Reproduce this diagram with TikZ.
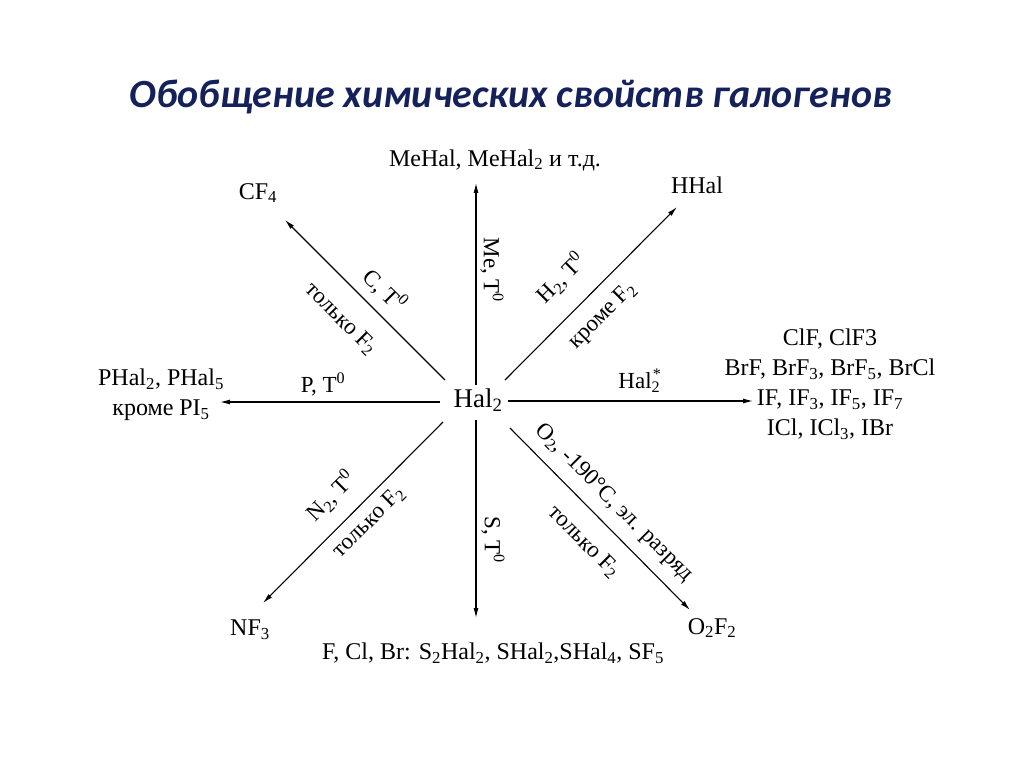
\documentclass[tikz,border=0pt]{standalone}
\usepackage{fontspec}
\setmainfont{Liberation Serif}
\newfontfamily\titlefont{Carlito}
\usetikzlibrary{arrows.meta}
\definecolor{titleblue}{HTML}{14215A}
\newcommand{\sbs}[1]{\textsubscript{#1}}
\newcommand{\sps}[1]{\textsuperscript{#1}}
\begin{document}
\begin{tikzpicture}[x=1pt,y=-1pt,
  lbl/.style={font=\fontsize{24}{30}\selectfont, inner sep=1pt},
  rlbl/.style={font=\fontsize{23}{26}\selectfont, inner sep=0pt},
  arr/.style={line width=1.1pt, -{Latex[length=10pt,width=5pt]}}]
\useasboundingbox (0,0) rectangle (1024,767);
\fill[white] (0,0) rectangle (1024,767);
\node[font=\titlefont\bfseries\itshape\fontsize{40}{46}\selectfont, text=titleblue] (title) at (511,97) {Обобщение химических свойств галогенов};
\node[font=\fontsize{27}{30}\selectfont, inner sep=1pt] (hal) at (478,400) {Hal\sbs{2}};
% end products
\node[lbl] (cf4) at (258,193) {CF\sbs{4}};
\node[lbl] (mehal) at (495,160) {MeHal, MeHal\sbs{2} и т.д.};
\node[lbl] (hhal) at (697,185) {HHal};
\node[lbl, align=center] (phal) at (161,395) {PHal\sbs{2}, PHal\sbs{5}\\кроме PI\sbs{5}};
\node[lbl, align=center] (inter) at (830,384) {ClF, ClF3\\BrF, BrF\sbs{3}, BrF\sbs{5}, BrCl\\IF, IF\sbs{3}, IF\sbs{5}, IF\sbs{7}\\ICl, ICl\sbs{3}, IBr};
\node[lbl] (nf3) at (250,630) {NF\sbs{3}};
\node[lbl] (o2f2) at (712,628) {O\sbs{2}F\sbs{2}};
\node[lbl] (shal) at (493,653) {F, Cl, Br: S\sbs{2}Hal\sbs{2}, SHal\sbs{2},SHal\sbs{4}, SF\sbs{5}};
% arrow end points
\coordinate (sU) at (476,385);  \coordinate (tU) at (476,183);
\coordinate (sUL) at (445,380); \coordinate (tUL) at (285,220);
\coordinate (sUR) at (505,380); \coordinate (tUR) at (677,207);
\coordinate (sL) at (440,402);  \coordinate (tL) at (220,402);
\coordinate (sR) at (508,401);  \coordinate (tR) at (753,401);
\coordinate (sDL) at (443,422); \coordinate (tDL) at (263,603);
\coordinate (sD) at (476,420);  \coordinate (tD) at (476,618);
\coordinate (sDR) at (510,428); \coordinate (tDR) at (690,610);
\draw[arr] (sU) -- (tU);
\draw[arr] (sUL) -- (tUL);
\draw[arr] (sUR) -- (tUR);
\draw[arr] (sL) -- (tL);
\draw[arr] (sR) -- (tR);
\draw[arr] (sDL) -- (tDL);
\draw[arr] (sD) -- (tD);
\draw[arr] (sDR) -- (tDR);
% arrow labels
\node[rlbl, rotate=-90] (lU) at (492,270) {Me, T\sps{0}};
\node[rlbl, rotate=-45] (lUL1) at (385,290) {C, T\sps{0}};
\node[rlbl, rotate=-45] (lUL2) at (341,319) {только F\sbs{2}};
\node[rlbl, rotate=45] (lUR1) at (561,278) {H\sbs{2}, T\sps{0}};
\node[rlbl, rotate=45] (lUR2) at (603,316) {кроме F\sbs{2}};
\node[rlbl] (lL) at (323,384) {P, T\sps{0}};
\node[rlbl] (lR) at (640,381) {Hal\sbs{2}\sps{\hspace{-0.45em}*}};
\node[rlbl, rotate=45] (lDL1) at (331,496) {N\sbs{2}, T\sps{0}};
\node[rlbl, rotate=45] (lDL2) at (369,522) {только F\sbs{2}};
\node[rlbl, rotate=-90] (lD) at (493,540) {S, T\sps{0}};
\node[rlbl, rotate=-45] (lDR1) at (614,503) {O\sbs{2}, -190°C, эл. разряд};
\node[rlbl, rotate=-45] (lDR2) at (584,542) {только F\sbs{2}};
\end{tikzpicture}
\end{document}
